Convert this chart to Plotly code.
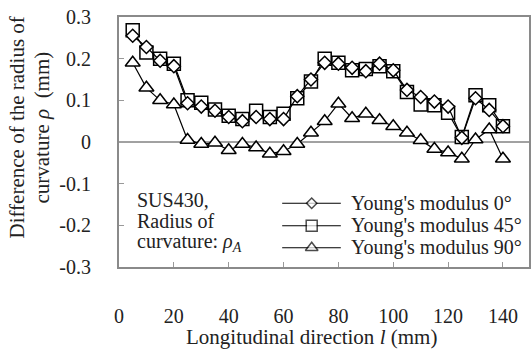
import plotly.graph_objects as go

x_mm = [5, 10, 15, 20, 25, 30, 35, 40, 45, 50, 55, 60, 65, 70,
        75, 80, 85, 90, 95, 100, 105, 110, 115, 120, 125, 130, 135, 140]

ym_0 = [0.255, 0.228, 0.195, 0.182, 0.093, 0.085, 0.075, 0.060, 0.050, 0.060,
        0.055, 0.055, 0.110, 0.150, 0.190, 0.188, 0.178, 0.170, 0.188, 0.172,
        0.125, 0.108, 0.097, 0.085, 0.010, 0.105, 0.077, 0.038]
ym_45 = [0.268, 0.215, 0.200, 0.188, 0.100, 0.094, 0.078, 0.063, 0.055, 0.075,
         0.060, 0.068, 0.105, 0.145, 0.200, 0.190, 0.172, 0.175, 0.182, 0.170,
         0.120, 0.090, 0.088, 0.070, 0.012, 0.112, 0.088, 0.038]
ym_90 = [0.190, 0.130, 0.100, 0.090, 0.005, -0.005, -0.002, -0.020, -0.005, -0.013,
         -0.028, -0.022, -0.005, 0.022, 0.050, 0.092, 0.057, 0.068, 0.052, 0.038,
         0.022, 0.004, -0.017, -0.025, -0.040, 0.006, 0.030, -0.040]

x_ticks = [0, 20, 40, 60, 80, 100, 120, 140]
y_ticks = [-0.3, -0.2, -0.1, 0, 0.1, 0.2, 0.3]
y_ticktext = ["-0.3", "-0.2", "-0.1", "0", "0.1", "0.2", "0.3"]

legend_names = ["Young's modulus 0°", "Young's modulus 45°", "Young's modulus 90°"]
symbols = ["diamond", "square", "triangle-up"]
sizes = [10, 13, 13]
values = [ym_0, ym_45, ym_90]

FONT = "Liberation Serif"
TXT = "#222222"

fig = go.Figure()
for i in [2, 1, 0]:
    fig.add_trace(go.Scatter(
        x=x_mm, y=values[i], name=legend_names[i], mode="lines+markers",
        showlegend=False,
        line=dict(color="black", width=1.2),
        marker=dict(symbol=symbols[i], size=sizes[i], color="white",
                    line=dict(color="black", width=1.5)),
    ))

fig.add_trace(go.Scatter(x=[None], y=[None], xaxis="x2", yaxis="y2",
                         showlegend=False, hoverinfo="skip"))

leg_rows = [0.255, 0.165, 0.077]
leg_x0, leg_x1, leg_xm, leg_tx = 0.398, 0.541, 0.470, 0.561
for i in range(3):
    fig.add_trace(go.Scatter(
        x=[leg_x0, leg_xm, leg_x1], y=[leg_rows[i]] * 3, xaxis="x3", yaxis="y3",
        mode="lines+markers", showlegend=False, hoverinfo="skip",
        line=dict(color="black", width=1.2),
        marker=dict(symbol=symbols[i], size=[0, sizes[i] - 2, 0], color="white",
                    line=dict(color="black", width=1.5)),
    ))

fig.update_layout(
    width=531, height=350,
    margin=dict(l=119, r=0, t=17, b=83),
    paper_bgcolor="white", plot_bgcolor="white",
    showlegend=False,
    font=dict(family=FONT, size=20, color=TXT),
    xaxis=dict(range=[0, 149.5], tickvals=x_ticks,
               showgrid=False, zeroline=False,
               ticks="outside", ticklen=30, tickcolor="rgba(255,255,255,0)",
               showline=True, mirror=True, linecolor="#8a8a8a", linewidth=2,
               tickfont=dict(family=FONT, size=20, color=TXT)),
    yaxis=dict(range=[-0.3, 0.3], tickvals=y_ticks, ticktext=y_ticktext,
               showgrid=False, zeroline=False,
               ticks="outside", ticklen=22, tickcolor="rgba(255,255,255,0)",
               showline=True, mirror=True, linecolor="#8a8a8a", linewidth=2,
               tickfont=dict(family=FONT, size=20, color=TXT)),
    xaxis2=dict(overlaying="x", anchor="y2", side="bottom",
                range=[0, 149.5], tickvals=x_ticks[1:],
                showgrid=False, zeroline=False, showticklabels=False,
                ticks="inside", ticklen=5, tickcolor="#999",
                showline=False),
    yaxis2=dict(overlaying="y", anchor="x", side="left",
                range=[0, 0.6], tickvals=[0.1, 0.2, 0.4, 0.5],
                showgrid=False, zeroline=False, showticklabels=False,
                ticks="inside", ticklen=5, tickcolor="#999",
                showline=False),
    xaxis3=dict(overlaying="x", anchor="y3", range=[0, 1], visible=False),
    yaxis3=dict(overlaying="y", anchor="x3", range=[0, 1], visible=False),
    shapes=[dict(type="line", xref="x", yref="y", x0=0, x1=149.5, y0=0, y1=0,
                 line=dict(color="#444", width=1), layer="below")],
)

ann = [
    dict(text="Longitudinal direction <i>l</i> (mm)", x=0.469, y=-0.28,
         xanchor="center", font=dict(family=FONT, size=21, color=TXT)),
    dict(text="Difference of the radius of", x=-0.25, y=0.556,
         xanchor="center", textangle=-90, font=dict(family=FONT, size=21, color=TXT)),
    dict(text="curvature <i>ρ</i>  (mm)", x=-0.189, y=0.556,
         xanchor="center", textangle=-90, font=dict(family=FONT, size=21, color=TXT)),
    dict(text="SUS430,", x=0.039, y=0.268, xanchor="left"),
    dict(text="Radius of", x=0.039, y=0.184, xanchor="left"),
    dict(text="curvature: <i>ρ<sub>A</sub></i>", x=0.039, y=0.10, xanchor="left"),
]
for i, n in enumerate(legend_names):
    ann.append(dict(text=n, x=leg_tx, y=leg_rows[i], xanchor="left"))
for a in ann:
    a.update(xref="paper", yref="paper", yanchor="middle", showarrow=False)
    a.setdefault("font", dict(family=FONT, size=20, color=TXT))
fig.update_layout(annotations=ann)

fig.write_html("out.html")
